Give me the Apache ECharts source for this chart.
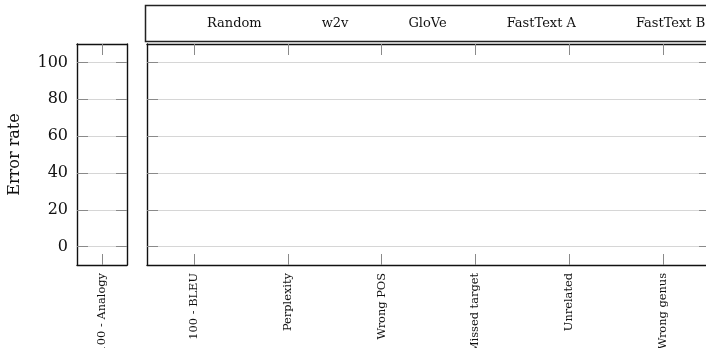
<!DOCTYPE html>
<html>
<head>
<meta charset="utf-8">
<script src="https://cdn.jsdelivr.net/npm/echarts@6/dist/echarts.min.js"></script>
<style>
  html, body { margin: 0; padding: 0; background: #fff; }
  #chart { width: 706px; height: 348px; }
</style>
</head>
<body>
<div id="chart"></div>
<script>
// Categories of the two panels
const analogyCategories = ['100 - Analogy'];
const errorCategories = ['100 - BLEU', 'Perplexity', 'Wrong POS', 'Missed target', 'Unrelated', 'Wrong genus'];

// Embedding models (legend entries)
const models = ['Random', 'w2v', 'GloVe', 'FastText A', 'FastText B'];

// Error rates per model: no values recorded yet
const analogyValues = {
  'Random':     [null],
  'w2v':        [null],
  'GloVe':      [null],
  'FastText A': [null],
  'FastText B': [null]
};
const errorValues = {
  'Random':     [null, null, null, null, null, null],
  'w2v':        [null, null, null, null, null, null],
  'GloVe':      [null, null, null, null, null, null],
  'FastText A': [null, null, null, null, null, null],
  'FastText B': [null, null, null, null, null, null]
};

// Y axis ticks
const yTicks = [0, 20, 40, 60, 80, 100];
const yMin = -10;
const yMax = 110;

const FONT = 'DejaVu Serif';
const frameColor = '#111';
const tickColor = '#8a8a8a';
const gridColor = '#d6d6d6';

function valueAxis(gridIndex, position, withLabels) {
  return {
    type: 'value',
    gridIndex: gridIndex,
    position: position,
    min: yMin,
    max: yMax,
    name: withLabels ? 'Error rate' : '',
    nameLocation: 'middle',
    nameGap: 54,
    nameTextStyle: { fontFamily: FONT, fontSize: 16, color: '#111' },
    axisLine: { show: true, lineStyle: { color: frameColor, width: 1.4 } },
    axisTick: { show: true, inside: true, length: 11, customValues: yTicks,
                lineStyle: { color: tickColor, width: 1 } },
    axisLabel: { show: withLabels, customValues: yTicks, margin: 9,
                 fontFamily: FONT, fontSize: 16, color: '#111' },
    splitLine: { show: position === 'left', lineStyle: { color: gridColor, width: 1 } }
  };
}

function categoryAxis(gridIndex, position, cats, withLabels) {
  return {
    type: 'category',
    gridIndex: gridIndex,
    position: position,
    data: cats,
    axisLine: { show: true, onZero: false, lineStyle: { color: frameColor, width: 1.4 } },
    axisTick: { show: true, inside: true, length: 11, alignWithLabel: true,
                lineStyle: { color: tickColor, width: 1 } },
    axisLabel: { show: withLabels, rotate: 90, margin: 8, interval: 0,
                 fontFamily: FONT, fontSize: 11.4, color: '#111' },
    splitLine: { show: false }
  };
}

const series = [];
models.forEach(function (m) {
  series.push({
    name: m, type: 'bar', xAxisIndex: 0, yAxisIndex: 0,
    data: analogyValues[m]
  });
  series.push({
    name: m, type: 'bar', xAxisIndex: 2, yAxisIndex: 2,
    data: errorValues[m]
  });
});

const chart = echarts.init(document.getElementById('chart'), null, { renderer: 'canvas' });
chart.setOption({
  animation: false,
  backgroundColor: '#fff',
  textStyle: { fontFamily: FONT },
  grid: [
    { left: 77, top: 44, width: 50, height: 221, outerBoundsMode: 'none' },
    { left: 147, top: 44, width: 563, height: 221, outerBoundsMode: 'none' }
  ],
  xAxis: [
    categoryAxis(0, 'bottom', analogyCategories, true),
    categoryAxis(0, 'top', analogyCategories, false),
    categoryAxis(1, 'bottom', errorCategories, true),
    categoryAxis(1, 'top', errorCategories, false)
  ],
  yAxis: [
    valueAxis(0, 'left', true),
    valueAxis(0, 'right', false),
    valueAxis(1, 'left', false),
    valueAxis(1, 'right', false)
  ],
  legend: {
    data: models,
    left: 177,
    top: 17,
    width: 700,
    padding: 0,
    itemWidth: 25,
    itemHeight: 10,
    itemGap: 30,
    icon: 'rect',
    itemStyle: { opacity: 0 },
    selectedMode: false,
    textStyle: { fontFamily: FONT, fontSize: 13, color: '#111' }
  },
  graphic: [
    {
      type: 'rect',
      shape: { x: 145.5, y: 5.5, width: 600, height: 36 },
      style: { fill: 'none', stroke: '#222', lineWidth: 1.5 },
      silent: true
    }
  ],
  series: series
});
</script>
</body>
</html>
